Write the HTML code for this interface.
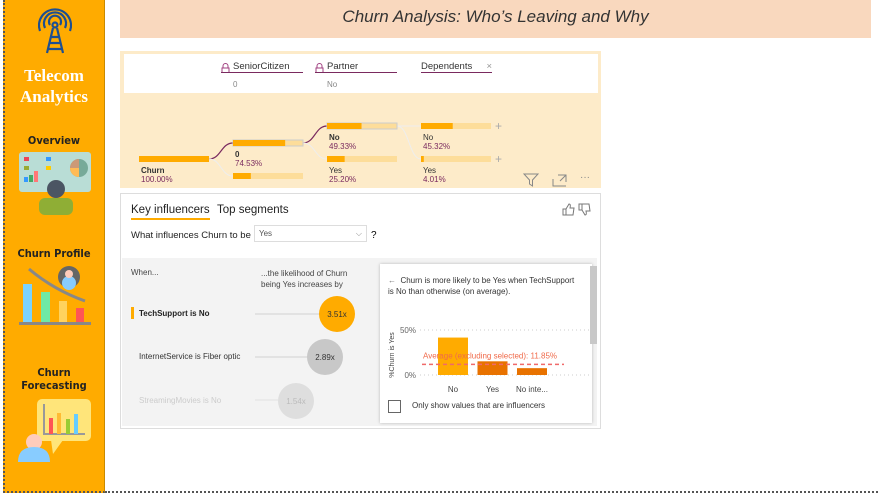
<!DOCTYPE html>
<html><head><meta charset="utf-8">
<style>
*{box-sizing:border-box;margin:0;padding:0}
body{width:878px;height:497px;background:#fff;font-family:"Liberation Sans",sans-serif;position:relative;overflow:hidden}
.abs{position:absolute}
.sb{left:3px;top:0;width:102px;height:493px;background:#FFAB00;border-left:2px dotted #555;border-bottom:2px dotted #555;border-right:1px solid #c98a00}
.bottomdot{left:105px;top:491px;width:773px;border-bottom:2px dotted #555}
.nav{width:102px;text-align:center;font-weight:bold;font-size:11px;color:#222;font-family:"DejaVu Sans Condensed","DejaVu Sans",sans-serif}
.t{font-size:8px;color:#333}
</style></head><body>
<div class="abs sb"></div>
<div class="abs bottomdot"></div>
<svg class="abs" style="left:32px;top:5px" width="46" height="52" fill="none" stroke="#1d4f91" stroke-width="2.2">
<path d="M8 26 A16 16 0 1 1 38 26"/><path d="M13 23 A11 11 0 1 1 33 23"/><path d="M18 20 A6 6 0 1 1 28 20"/>
<circle cx="23" cy="20" r="2.5"/><path d="M21 23 L15 48 M25 23 L31 48 M17 38 L29 38 M16 44 L30 44 M18 32 L28 32"/></svg>
<div class="abs" style="left:3px;top:65px;width:102px;text-align:center;color:#fff;font-family:'Liberation Serif',serif;font-weight:bold;font-size:17px;line-height:21px">Telecom<br>Analytics</div>
<div class="abs nav" style="left:3px;top:134px">Overview</div>
<svg class="abs" style="left:19px;top:151px" width="72" height="64">
<rect x="0" y="1" width="72" height="40" rx="3" fill="#b9ddd6"/>
<rect x="5" y="6" width="5" height="4" fill="#e45"/><rect x="27" y="6" width="5" height="4" fill="#39f"/><rect x="5" y="15" width="5" height="4" fill="#9a3"/><rect x="27" y="15" width="5" height="4" fill="#fc0"/>
<rect x="5" y="26" width="4" height="5" fill="#39f"/><rect x="10" y="24" width="4" height="7" fill="#4a6"/><rect x="15" y="20" width="4" height="11" fill="#f77"/>
<circle cx="60" cy="17" r="9" fill="#7a9"/><path d="M60 17 L60 8 A9 9 0 0 0 51 17Z" fill="#c97"/><path d="M60 17 L51 17 A9 9 0 0 0 60 26Z" fill="#fb5"/>
<circle cx="37" cy="38" r="9" fill="#4b5563"/><rect x="20" y="47" width="34" height="17" rx="6" fill="#8fae35"/></svg>
<div class="abs nav" style="left:3px;top:247px">Churn Profile</div>
<svg class="abs" style="left:19px;top:265px" width="72" height="62">
<path d="M10 4 Q35 25 66 36" stroke="#888" stroke-width="3" fill="none"/><circle cx="50" cy="12" r="11" fill="#666"/><circle cx="50" cy="18" r="7" fill="#8cf"/><circle cx="50" cy="9" r="4" fill="#fcb"/>
<rect x="4" y="19" width="9" height="38" fill="#7bd3ff"/><rect x="22" y="27" width="9" height="30" fill="#6ee9a5"/><rect x="40" y="36" width="8" height="21" fill="#ffd25e"/><rect x="57" y="43" width="8" height="14" fill="#f55"/><rect x="0" y="57" width="72" height="3" fill="#888"/></svg>
<div class="abs nav" style="left:3px;top:366px;line-height:13px">Churn<br>Forecasting</div>
<svg class="abs" style="left:17px;top:396px" width="76" height="66">
<rect x="20" y="3" width="54" height="42" rx="5" fill="#ffe57a"/><path d="M34 44 L36 58 L46 44Z" fill="#ffe57a"/>
<path d="M27 8 L27 38 L68 38" stroke="#999" stroke-width="2" fill="none"/><rect x="32" y="22" width="4" height="16" fill="#f55"/><rect x="40" y="17" width="4" height="21" fill="#fb3"/><rect x="49" y="23" width="4" height="15" fill="#9c3"/><rect x="57" y="18" width="4" height="20" fill="#6cf"/>
<circle cx="17" cy="46" r="8" fill="#fcb"/><path d="M1 66 Q1 51 17 51 Q33 51 33 66Z" fill="#8cf"/></svg>

<div class="abs" style="left:120px;top:0;width:751px;height:38px;background:#F9D8BE;color:#333;font-style:italic;font-size:17px;text-align:center;line-height:34px">Churn Analysis: Who’s Leaving and Why</div>

<!-- decomposition tree -->
<div class="abs" style="left:120px;top:51px;width:481px;height:137px;background:#FDEBC9"></div>
<div class="abs" style="left:124px;top:54px;width:474px;height:39px;background:#fff"></div>
<svg class="abs" style="left:221px;top:63px" width="9" height="10"><path d="M2 5 V3 A2.5 2.5 0 0 1 7 3 V5" stroke="#a04080" fill="none"/><rect x="1" y="5" width="7" height="4.5" stroke="#a04080" fill="none"/></svg>
<div class="abs t" style="left:221px;top:61px;font-size:9.5px;width:82px;border-bottom:1.5px solid #7a2a5f;padding-left:12px">SeniorCitizen</div>
<div class="abs t" style="left:233px;top:80px;color:#888">0</div>
<svg class="abs" style="left:315px;top:63px" width="9" height="10"><path d="M2 5 V3 A2.5 2.5 0 0 1 7 3 V5" stroke="#a04080" fill="none"/><rect x="1" y="5" width="7" height="4.5" stroke="#a04080" fill="none"/></svg>
<div class="abs t" style="left:315px;top:61px;font-size:9.5px;width:82px;border-bottom:1.5px solid #7a2a5f;padding-left:12px">Partner</div>
<div class="abs t" style="left:327px;top:80px;color:#888">No</div>
<div class="abs t" style="left:421px;top:61px;font-size:9.5px;width:71px;border-bottom:1.5px solid #7a2a5f">Dependents <span style="color:#999;float:right">×</span></div>
<svg class="abs" style="left:120px;top:100px" width="420" height="88" id="tree"></svg>
<svg class="abs" style="left:523px;top:173px" width="16" height="14"><path d="M1 1 H15 L9.5 7 V13 L6.5 11 V7Z" fill="none" stroke="#888"/></svg>
<svg class="abs" style="left:552px;top:174px" width="15" height="13"><path d="M1 5 V12 H14 M6 1 H14 V8 M8 7 L14 1" fill="none" stroke="#888"/></svg>
<div class="abs" style="left:580px;top:172px;color:#888;font-size:10px">···</div>

<!-- key influencers -->
<div class="abs" style="left:120px;top:193px;width:481px;height:236px;border:1px solid #ddd;background:#fff"></div>
<div class="abs" style="left:131px;top:204px;font-size:11.5px;color:#222;border-bottom:2px solid #FFAB00;padding-bottom:2px">Key influencers</div>
<div class="abs" style="left:217px;top:204px;font-size:11.5px;color:#222">Top segments</div>
<svg class="abs" style="left:562px;top:203px" width="30" height="13"><path d="M1 6 H4 V12 H1Z M4 6 L7 1 Q9 1 8 5 H12 L11 12 H4" fill="none" stroke="#777"/><path d="M17 7 H20 V1 H17Z M20 7 L23 12 Q25 12 24 8 H28 L27 1 H20" fill="none" stroke="#777"/></svg>
<div class="abs" style="left:131px;top:230px;font-size:9.5px;color:#222">What influences Churn to be</div>
<div class="abs" style="left:254px;top:225px;width:113px;height:17px;border:1px solid #ddd;font-size:8px;color:#555;padding:3px 4px;background:#fff">Yes<span style="float:right;color:#888">⌵</span></div>
<div class="abs" style="left:371px;top:230px;font-size:10px">?</div>
<div class="abs" style="left:122px;top:258px;width:475px;height:168px;background:#F3F3F3"></div>
<div class="abs t" style="left:131px;top:268px;color:#444">When...</div>
<div class="abs t" style="left:261px;top:268px;color:#444;line-height:11px">...the likelihood of Churn<br>being Yes increases by</div>
<div class="abs" style="left:131px;top:307px;width:3px;height:12px;background:#FFAB00"></div>
<div class="abs t" style="left:139px;top:309px;font-weight:bold;color:#222">TechSupport is No</div>
<div class="abs t" style="left:139px;top:352px;color:#333">InternetService is Fiber optic</div>
<div class="abs t" style="left:139px;top:396px;color:#ccc">StreamingMovies is No</div>
<svg class="abs" style="left:250px;top:290px" width="120" height="136">
<line x1="5" y1="24" x2="70" y2="24" stroke="#ddd" stroke-width="1.5"/><circle cx="87" cy="24" r="18" fill="#FFAB00"/><text x="87" y="27" font-size="8" text-anchor="middle" fill="#333">3.51x</text>
<line x1="5" y1="67" x2="58" y2="67" stroke="#ddd" stroke-width="1.5"/><circle cx="75" cy="67" r="18" fill="#c8c8c8"/><text x="75" y="70" font-size="8" text-anchor="middle" fill="#333">2.89x</text>
<line x1="5" y1="110" x2="28" y2="110" stroke="#e8e8e8" stroke-width="1.5"/><circle cx="46" cy="111" r="18" fill="#dedede"/><text x="46" y="114" font-size="8" text-anchor="middle" fill="#bbb">1.54x</text>
</svg>
<div class="abs" style="left:380px;top:264px;width:212px;height:159px;background:#fff;box-shadow:0 0 3px rgba(0,0,0,.25)"></div>
<div class="abs" style="left:590px;top:266px;width:7px;height:78px;background:#c8c8c8"></div>
<div class="abs t" style="left:388px;top:275px;color:#333;line-height:11px;width:200px"><span style="color:#777">&larr;</span>&nbsp; Churn is more likely to be Yes when TechSupport<br>is No than otherwise (on average).</div>
<svg class="abs" style="left:380px;top:320px" width="212" height="80" id="chart"></svg>
<div class="abs" style="left:388px;top:400px;width:13px;height:13px;border:1px solid #666"></div>
<div class="abs t" style="left:412px;top:401px;color:#333">Only show values that are influencers</div>

<script>
// decomposition tree data
const treeLabels=["Churn","0","","No","Yes","No","Yes"];
const treeValues=[100.00,74.53,25.47,49.33,25.20,45.32,4.01];
const treeBold=[true,true,false,true,false,false,false];
const NS="http://www.w3.org/2000/svg";
const tree=document.getElementById('tree');
function mk(p,tag,a){const e=document.createElementNS(NS,tag);for(const k in a)e.setAttribute(k,a[k]);p.appendChild(e);return e;}
const nodeX=[19,113,113,207,207,301,301];
const nodeY=[56,40,73,23,56,23,56];
const barW=70;
const wx=v=>v/100*barW;
mk(tree,'path',{d:'M89 59 C101 59 101 43 113 43',stroke:'#7a2a5f',fill:'none','stroke-width':1.2});
mk(tree,'path',{d:'M89 59 C101 59 101 76 113 76',stroke:'#eee',fill:'none'});
mk(tree,'path',{d:'M183 43 C195 43 195 26 207 26',stroke:'#7a2a5f',fill:'none','stroke-width':1.2});
mk(tree,'path',{d:'M183 43 C195 43 195 59 207 59',stroke:'#eee',fill:'none'});
mk(tree,'path',{d:'M277 26 L301 26',stroke:'#eee',fill:'none'});
mk(tree,'path',{d:'M277 26 C289 26 289 59 301 59',stroke:'#eee',fill:'none'});
treeValues.forEach((v,i)=>{
  const bg=mk(tree,'rect',{x:nodeX[i],y:nodeY[i],width:barW,height:6,fill:'#FDDD9A',stroke:(i==1||i==3)?'#ccc':'none'});
  
  
  const b=mk(tree,'rect',{x:nodeX[i],y:nodeY[i],width:wx(v),height:6,fill:'#FFAB00'});
  
  
  if(i!==2){
    const t1=mk(tree,'text',{x:nodeX[i]+2,y:nodeY[i]+17,'font-size':8,fill:'#333','font-weight':treeBold[i]?'bold':'normal'});t1.textContent=treeLabels[i];
    const t2=mk(tree,'text',{x:nodeX[i]+2,y:nodeY[i]+26,'font-size':8,fill:'#7a2a5f'});t2.textContent=v.toFixed(2)+'%';
  }
});
[23,56].forEach(y=>{const p=mk(tree,'text',{x:375,y:y+7,'font-size':12,fill:'#aaa'});p.textContent='+';});

// detail chart data
const cats=["No","Yes","No inte..."];
const vals=[41.6,15.2,7.6];
const avgVal=11.85;
const ticks=[0,50];
const ch=document.getElementById('chart');
const y0=55,yScale=45/50;
const yv=v=>y0-v*yScale;
const xc=i=>73+i*39.5;
ticks.forEach(t=>{
  mk(ch,'line',{x1:40,x2:210,y1:yv(t),y2:yv(t),stroke:'#ccc','stroke-dasharray':'1 3'});
  const tx=mk(ch,'text',{x:36,y:yv(t)+3,'font-size':8,fill:'#666','text-anchor':'end'});tx.textContent=t+'%';
});
const yl=mk(ch,'text',{x:14,y:35,'font-size':7,fill:'#444','text-anchor':'middle',transform:'rotate(-90 14 35)'});yl.textContent='%Churn is Yes';
vals.forEach((v,i)=>{
  const r=mk(ch,'rect',{x:xc(i)-15,y:yv(v),width:30,height:v*yScale,fill:i==0?'#FFAB00':'#E87200'});
  
  
  const t=mk(ch,'text',{x:xc(i),y:72,'font-size':8,fill:'#444','text-anchor':'middle'});t.textContent=cats[i];
});
mk(ch,'line',{x1:42,x2:184,y1:yv(avgVal),y2:yv(avgVal),stroke:'#f06a6a','stroke-width':1.5,'stroke-dasharray':'4 3'});
const at=mk(ch,'text',{x:43,y:yv(avgVal)-6,'font-size':8,fill:'#f06a4a'});at.textContent='Average (excluding selected): '+avgVal.toFixed(2)+'%';
</script>
</body></html>
